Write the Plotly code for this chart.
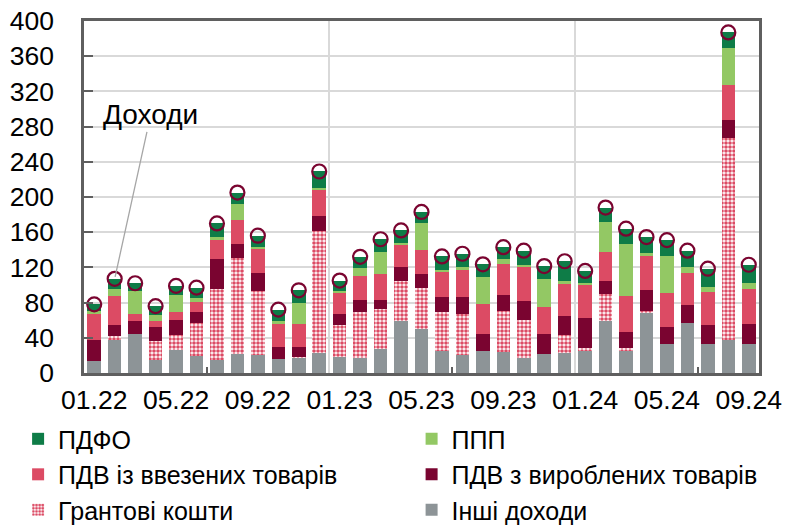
import plotly.graph_objects as go

# Monthly budget revenue structure, bn UAH
months = ["01.22", "02.22", "03.22", "04.22", "05.22", "06.22", "07.22", "08.22", "09.22", "10.22", "11.22", "12.22",
          "01.23", "02.23", "03.23", "04.23", "05.23", "06.23", "07.23", "08.23", "09.23", "10.23", "11.23", "12.23",
          "01.24", "02.24", "03.24", "04.24", "05.24", "06.24", "07.24", "08.24", "09.24"]

other_income = [14, 38, 44.5, 15, 26.5, 19.5, 14.5, 21.5, 20.5, 15.5, 17.5, 23,
                18, 17, 27, 59, 50, 25.5, 20.5, 24.5, 23.5, 16.5, 21.5, 23,
                25.5, 59, 25.5, 68.5, 33, 57, 33, 37, 33.5]
grants = [0, 4, 0, 21.5, 16.5, 37.5, 80.5, 109.5, 72.5, 0, 1, 138.5,
          37, 52, 45.5, 45.5, 47, 43.5, 47, 0, 46.5, 43.5, 0, 20,
          3, 31, 3, 2.5, 0, 0, 0, 230, 0]
vat_domestic = [23, 12, 15, 16, 17.5, 12, 35, 16, 21, 14.5, 11, 17,
                11.5, 14.5, 10.5, 16, 16, 17.5, 19, 20, 19, 22, 23, 22,
                34, 14.5, 18.5, 23, 19.5, 20, 21, 20.5, 22.5]
vat_import = [30, 33, 7, 6.5, 8.5, 12, 21, 27, 28, 26, 26.5, 29.5,
              24.5, 27, 29, 25, 27, 28.5, 31, 34, 35, 39, 31, 36.5,
              38, 32.5, 41, 39, 38.5, 37, 38.5, 39.5, 40]
excise_ppp = [3, 8, 27, 7, 20, 4, 4, 18, 1.5, 3, 24, 2,
              2, 9, 26, 2, 30, 2.5, 3, 31, 5, 2, 31, 3.5,
              2, 35, 59, 3.5, 42, 6, 5.5, 42.5, 6]
pit = [8, 12, 8.5, 10, 10, 12, 15, 13, 12.5, 13, 14, 19,
       12, 12.5, 14, 14.5, 13, 15, 15, 14, 14, 16, 15, 22,
       13.5, 16, 17, 18, 18, 19, 20.5, 17.5, 21]

tick_labels = ["01.22", "05.22", "09.22", "01.23", "05.23", "09.23", "01.24", "05.24", "09.24"]
y_ticks = list(range(0, 401, 40))

FONT = "Arial, Liberation Sans, sans-serif"
AXIS_DARK = "#5F5F5F"
GRID = "#D9D9D9"

x = list(range(len(months)))
tick_pos = [months.index(m) for m in tick_labels]
total = [sum(v) for v in zip(other_income, grants, vat_domestic, vat_import, excise_ppp, pit)]

# Stack order bottom → top; (legend id, rank) places each entry in a two-column key
series = [
    ("Інші доходи", other_income, "#8D9497", None, "legend2", 3),
    ("Грантові кошти", grants, "#DC4B64", dict(shape=".", size=4, solidity=0.65,
                                                fgcolor="#DC4B64", bgcolor="white",
                                                fillmode="replace"), "legend", 3),
    ("ПДВ з вироблених товарів", vat_domestic, "#7A0430", None, "legend2", 2),
    ("ПДВ із ввезених товарів", vat_import, "#DC4B64", None, "legend", 2),
    ("ППП", excise_ppp, "#93C864", None, "legend2", 1),
    ("ПДФО", pit, "#0E7C47", None, "legend", 1),
]

fig = go.Figure()
for name, vals, color, pattern, leg, rank in series:
    marker = dict(color=color, line=dict(width=0))
    if pattern:
        marker["color"] = "white"
        marker["pattern"] = pattern
    fig.add_trace(go.Bar(x=x, y=vals, name=name, marker=marker,
                         legend=leg, legendrank=rank, legendgroup=name))

fig.add_trace(go.Scatter(
    x=x, y=total, mode="markers", name="Доходи", showlegend=False, xaxis="x2",
    marker=dict(symbol="circle-open", size=14, color="#7A0430",
                line=dict(width=2.2, color="#7A0430")),
))

fig.add_annotation(
    x=1, y=total[1], xref="x2", yref="y", text="Доходи",
    showarrow=True, arrowhead=0, arrowwidth=1.3, arrowcolor="#A6A6A6",
    ax=36, ay=-164, standoff=2,
    font=dict(family=FONT, size=28, color="black"),
)

legend_style = dict(
    orientation="v", xref="container", yref="container",
    y=0.212, xanchor="left", yanchor="top", traceorder="normal",
    font=dict(family=FONT, size=25, color="black"),
    itemwidth=30, tracegroupgap=0, bgcolor="rgba(0,0,0,0)",
)

xrange = [-0.5, len(months) - 0.5]
fig.update_layout(
    width=787, height=528,
    margin=dict(l=84, r=28, t=21, b=155, autoexpand=False),
    barmode="stack", bargap=0.34,
    plot_bgcolor="white", paper_bgcolor="white",
    font=dict(family=FONT, size=26.5, color="black"),
    xaxis=dict(
        range=xrange, tickvals=tick_pos, ticktext=tick_labels,
        showgrid=False, ticks="", showline=True, linecolor=AXIS_DARK, linewidth=2.5,
        mirror=True, zeroline=False, ticklabelstandoff=1, automargin=False,
        minor=dict(tickvals=[5.5, 17.5, 29.5], ticks="inside", ticklen=6,
                   tickcolor=AXIS_DARK, tickwidth=2, showgrid=False),
    ),
    xaxis2=dict(
        range=xrange, overlaying="x", anchor="y", side="bottom",
        tickvals=[11.5, 23.5], showgrid=True, gridcolor=GRID, gridwidth=2,
        showticklabels=False, ticks="", showline=False, zeroline=False,
    ),
    yaxis=dict(
        range=[0, 400], tickvals=y_ticks, showgrid=True, gridcolor=GRID, gridwidth=1.5,
        ticks="inside", ticklen=9, tickwidth=2, tickcolor=AXIS_DARK,
        showline=True, linecolor=AXIS_DARK, linewidth=2.5, mirror=True,
        zeroline=False, ticklabelstandoff=22, automargin=False,
    ),
    legend=dict(legend_style, x=0.023),
    legend2=dict(legend_style, x=0.523),
)

fig.write_html("out.html")
